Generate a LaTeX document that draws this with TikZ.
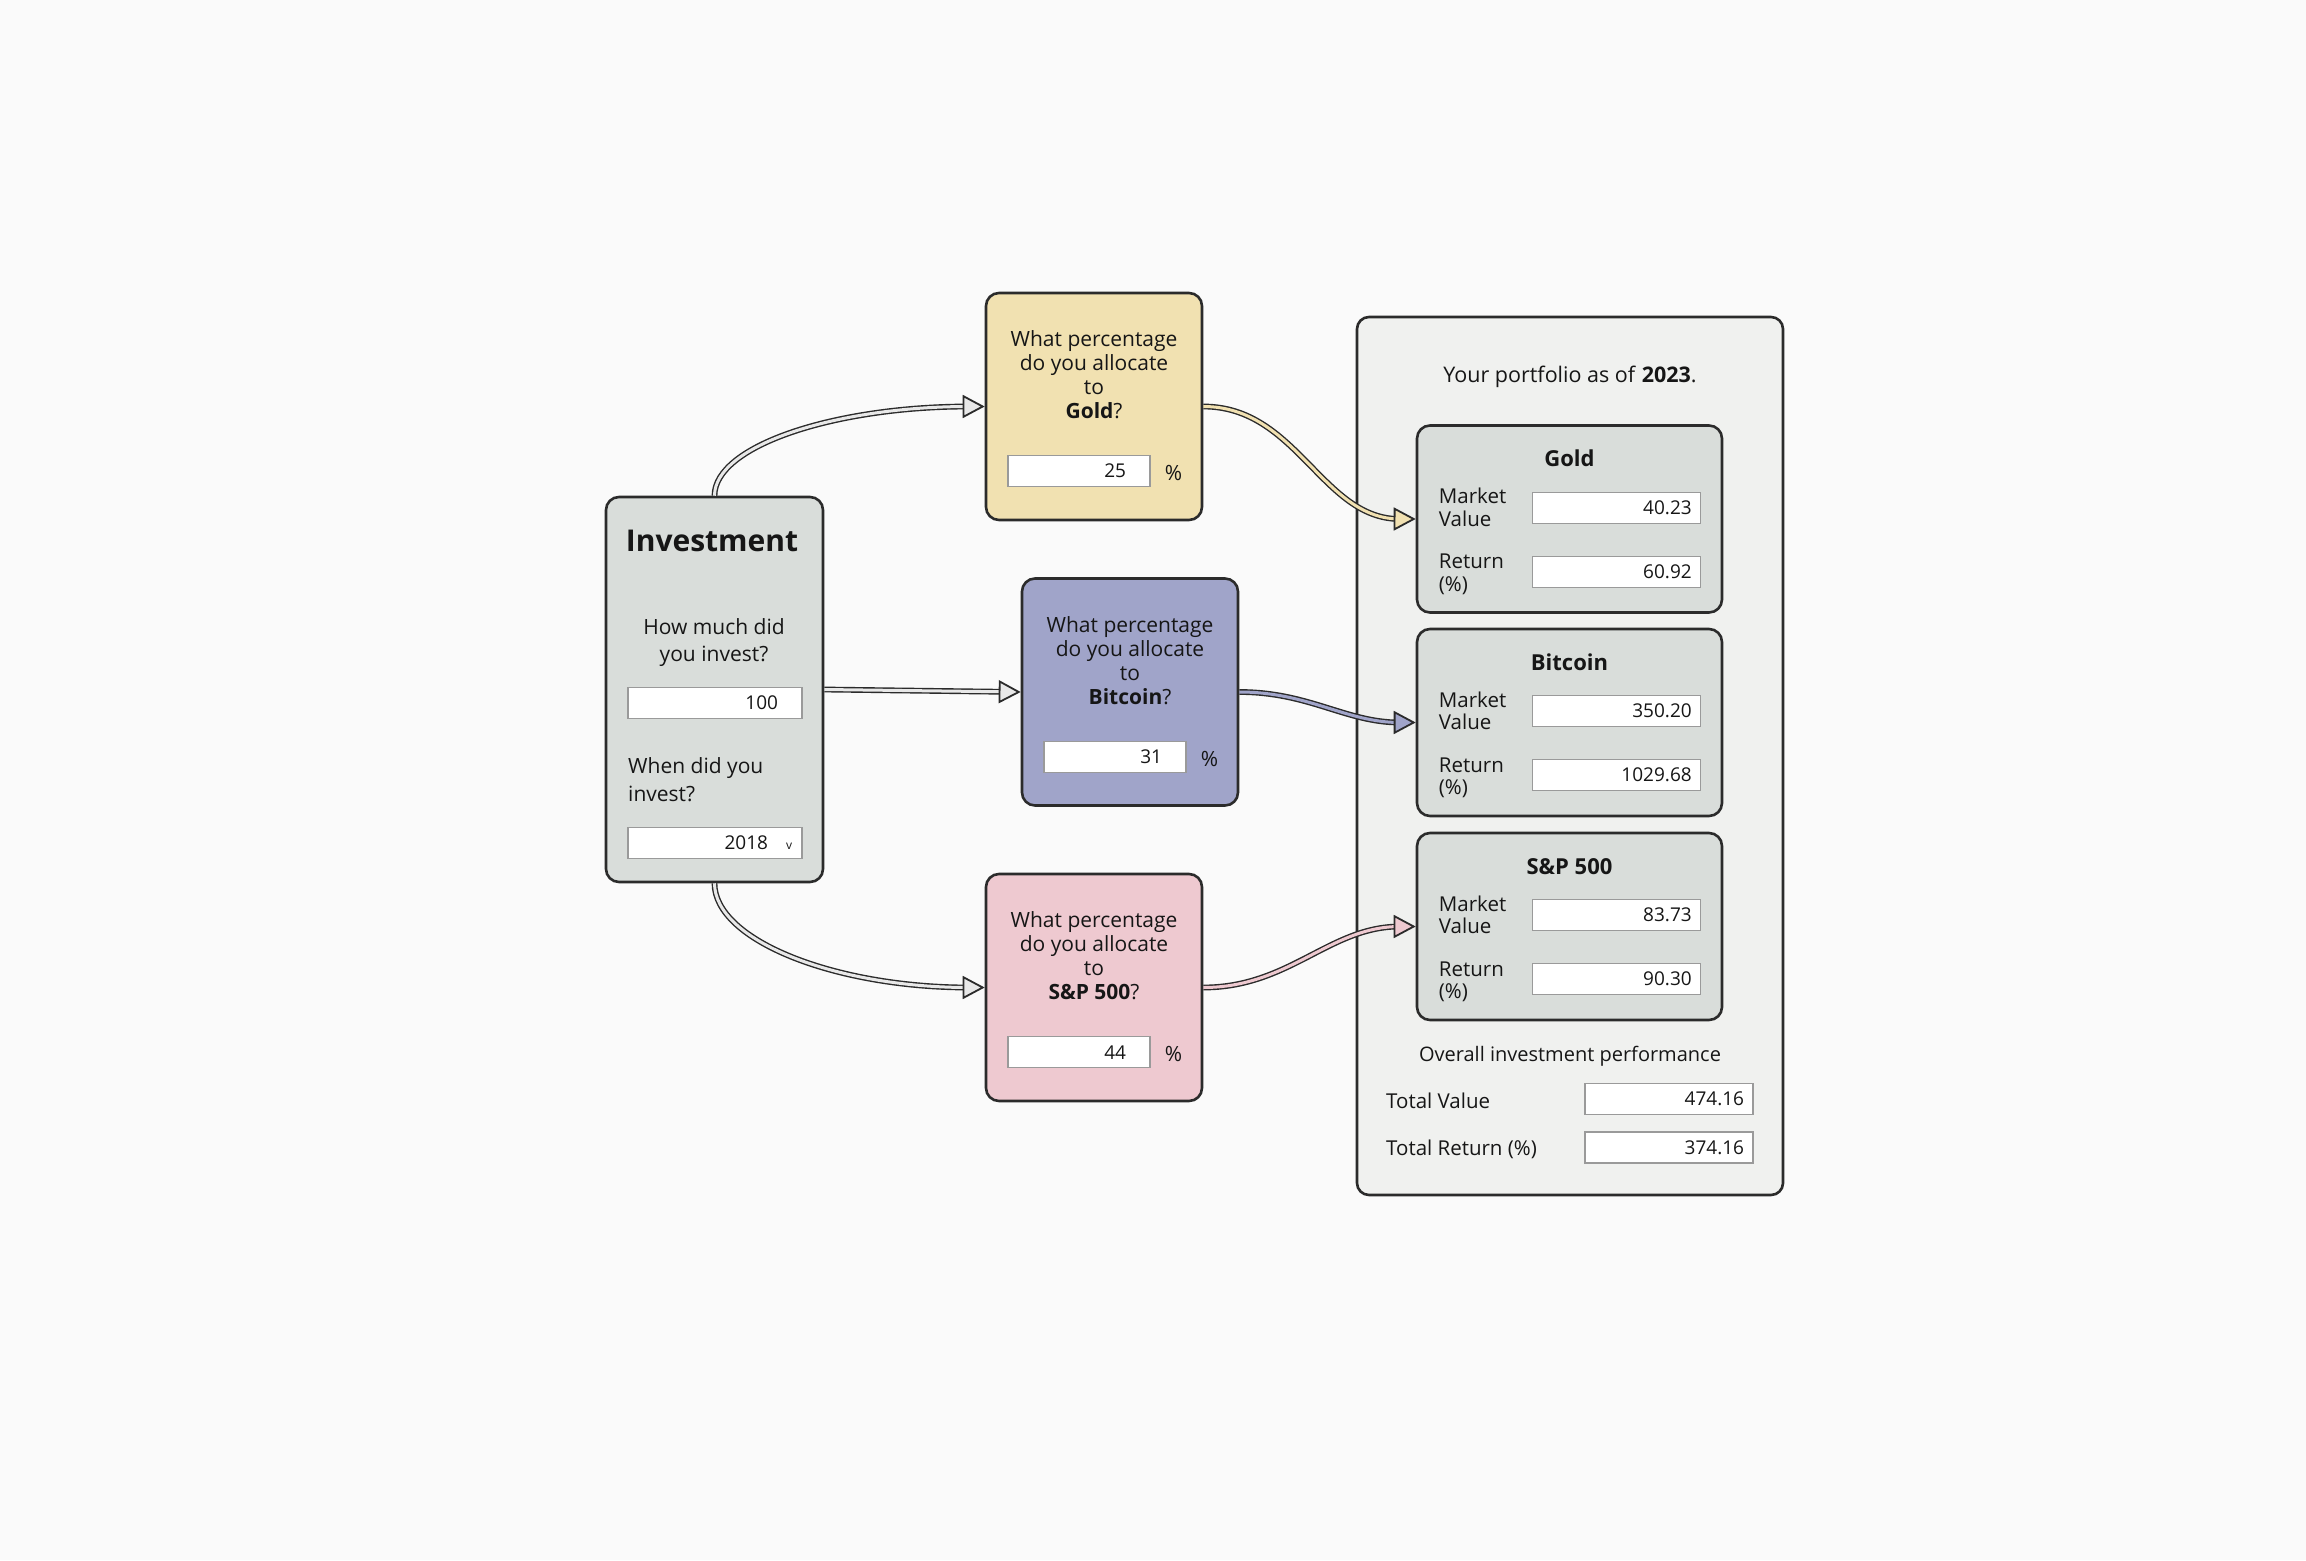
\documentclass[tikz,border=0pt]{standalone}
\usepackage{fontspec}
\setmainfont{Open Sans}
\usepackage{tikz}
\usetikzlibrary{arrows.meta, calc, decorations.markings}

\definecolor{bgc}{HTML}{FAFAFA}
\definecolor{edgec}{HTML}{2B2B2B}
\definecolor{inkc}{HTML}{161616}
\definecolor{cardc}{HTML}{D9DDDA}
\definecolor{panelc}{HTML}{F0F1EF}
\definecolor{goldc}{HTML}{F1E1B1}
\definecolor{btcc}{HTML}{A0A4C9}
\definecolor{snpc}{HTML}{EEC9D0}
\definecolor{pipec}{HTML}{E8E8E8}
\definecolor{fieldc}{HTML}{9A9A9A}

\tikzset{
  card/.style={draw=edgec, line width=2.6pt, rounded corners=13pt, inner sep=0pt},
  ask/.style={font=\fontsize{21}{24}\selectfont, text=inkc, align=center, inner sep=0pt},
  lbl/.style={font=\fontsize{20.5}{22.5}\selectfont, text=inkc, align=left, inner sep=0pt},
  field/.style 2 args={draw=fieldc, fill=white, line width=1.2pt, minimum height=31pt,
    inner ysep=0pt, text width=#1, inner xsep=#2, align=right,
    font=\fontsize{19}{19}\selectfont, text=inkc},
  tube/.style={draw=edgec, line width=5.8pt, shorten >=16pt,
    postaction={draw=#1, line width=3pt, shorten >=16pt},
    postaction={decorate, decoration={markings, mark=at position 0.9999 with
      {\arrow[edgec, line width=1.8pt]{Triangle[length=22pt, width=23pt, fill=#1]}}}}},
}

\begin{document}
\begin{tikzpicture}[x=1pt, y=-1pt]
  \fill[bgc] (0,0) rectangle (2306,1560);
  \useasboundingbox (0,0) rectangle (2306,1560);

  % investment inputs
  \node[card, fill=cardc, minimum width=217pt, minimum height=385pt] (invest) at (714.5,689.5) {};
  \node[text=inkc, inner sep=0pt, font=\bfseries\fontsize{30}{30}\selectfont] (invest-t) at (712,541) {Investment};
  \node[ask, font=\fontsize{21}{27.5}\selectfont] (invest-q1) at (714,642.5) {How much did\\you invest?};
  \node[field={126pt}{24pt}] (invest-f1) at (715,703) {100};
  \node[lbl, font=\fontsize{21}{28}\selectfont, anchor=west] (invest-q2) at (628,779.5) {When did you\\invest?};
  \node[field={106pt}{34pt}] (invest-f2) at (715,843) {2018};
  \node[text=inkc, inner sep=0pt, font=\fontsize{12}{12}\selectfont] (invest-v) at (789,846) {v};

  % allocation questions
  \foreach \nm/\col/\cx/\cy/\asset/\pct in {gold/goldc/1094/406.5/Gold/25,
      btc/btcc/1130/692/Bitcoin/31, snp/snpc/1094/987.5/S\&P 500/44} {
    \node[card, fill=\col, minimum width=216pt, minimum height=227pt] (\nm) at (\cx,\cy) {};
    \node[ask] (\nm-q) at ($(\nm.north)+(0,83)$) {What percentage\\do you allocate\\to\\\textbf{\asset}?};
    \node[field={94pt}{24pt}] (\nm-f) at ($(\nm.north)+(-15,179.5)$) {\pct};
    \node[ask] (\nm-p) at ($(\nm-f.east)+(23,2)$) {\%};
  }

  % portfolio results
  \node[card, fill=panelc, rounded corners=12pt, minimum width=426pt, minimum height=878pt] (panel) at (1570,756) {};
  \node[ask, font=\fontsize{21.5}{22}\selectfont] (panel-t) at (1570,376.5) {Your portfolio as of \textbf{2023}.};

  \foreach \nm/\cy/\asset/\mv/\rt in {goldres/519/Gold/40.23/60.92,
      btcres/722.5/Bitcoin/350.20/1029.68, snpres/926.5/S\&P 500/83.73/90.30} {
    \node[card, fill=cardc, minimum width=305pt, minimum height=187pt] (\nm) at (1569.5,\cy) {};
    \node[ask, font=\bfseries\fontsize{22}{22}\selectfont] (\nm-t) at ($(\nm.north)+(0,34.5)$) {\asset};
    \node[lbl, anchor=west] (\nm-ml) at ($(\nm.north west)+(23,83)$) {Market\\Value};
    \node[field={150pt}{9pt}] (\nm-mf) at ($(\nm.north west)+(201,83.5)$) {\mv};
    \node[lbl, anchor=west] (\nm-rl) at ($(\nm.north west)+(23,150)$) {Return\\(\%)};
    \node[field={150pt}{9pt}] (\nm-rf) at ($(\nm.north west)+(201,147.5)$) {\rt};
  }

  \node[ask, font=\fontsize{20}{20}\selectfont] (overall) at (1570,1056.5) {Overall investment performance};
  \node[lbl, anchor=west] (tv-l) at (1386,1100.5) {Total Value};
  \node[field={150pt}{9pt}] (tv-f) at (1669,1099) {474.16};
  \node[lbl, anchor=west] (tr-l) at (1386,1149.5) {Total Return (\%)};
  \node[field={150pt}{9pt}] (tr-f) at (1669,1147.5) {374.16};

  % connectors
  \draw[tube=pipec] (invest.north) .. controls +(0,-50) and +(-150,0) .. (gold.west);
  \draw[tube=pipec] (invest.east) -- (btc.west);
  \draw[tube=pipec] (invest.south) .. controls +(0,57) and +(-150,0) .. (snp.west);
  \draw[tube=goldc] (gold.east) to[out=0, in=180] (goldres.west);
  \draw[tube=btcc] (btc.east) to[out=0, in=180] (btcres.west);
  \draw[tube=snpc] (snp.east) to[out=0, in=180] (snpres.west);
\end{tikzpicture}
\end{document}
